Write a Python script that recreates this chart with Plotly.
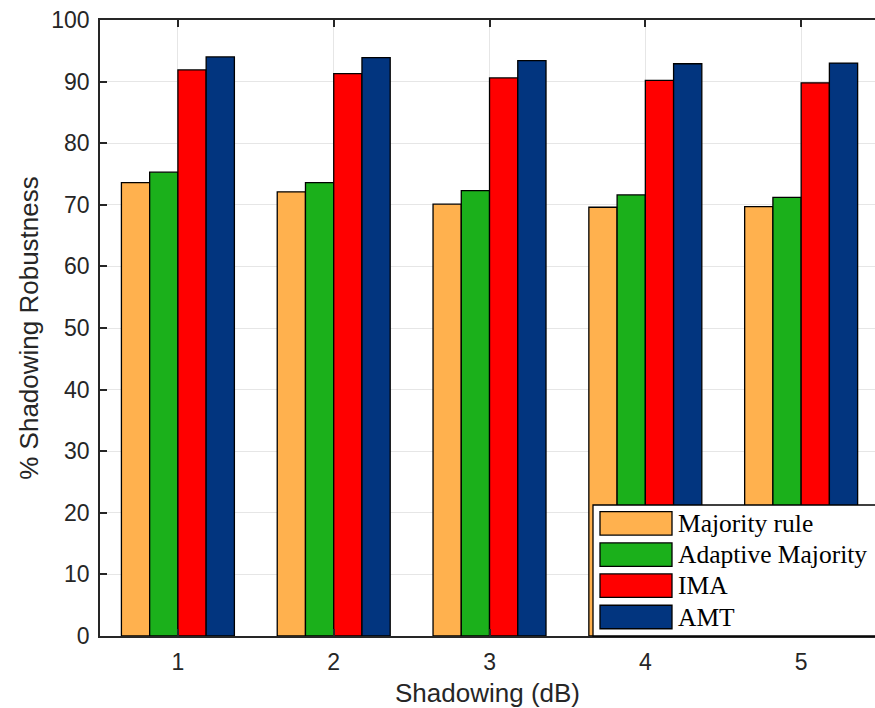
import plotly.graph_objects as go

shadowing = [1, 2, 3, 4, 5]
series_names = ["Majority rule", "Adaptive Majority", "IMA", "AMT"]
majority_rule = [73.6, 72.1, 70.1, 69.6, 69.7]
adaptive_majority = [75.3, 73.6, 72.3, 71.6, 71.2]
ima = [91.9, 91.3, 90.6, 90.2, 89.8]
amt = [94.0, 93.9, 93.4, 92.9, 93.0]
series_values = [majority_rule, adaptive_majority, ima, amt]
colors = ["#FFB14E", "#1BB01B", "#FF0000", "#02357F"]
y_ticks = [0, 10, 20, 30, 40, 50, 60, 70, 80, 90, 100]

fig = go.Figure()
for name, vals, col in zip(series_names, series_values, colors):
    fig.add_trace(go.Bar(x=shadowing, y=vals, name=name, marker=dict(color=col, line=dict(color="#000000", width=1.3)),
                         showlegend=False))

axis_color = "#262626"
fig.update_layout(
    width=875, height=708,
    margin=dict(l=100, r=0, t=20, b=72, autoexpand=False),
    paper_bgcolor="white", plot_bgcolor="white",
    barmode="group", bargap=0.275, bargroupgap=0,
    font=dict(family="Liberation Sans, Arial", color=axis_color),
    xaxis=dict(range=[0.5, 5.474], tickvals=shadowing, ticks="inside", ticklen=7, tickwidth=1.5,
               tickcolor=axis_color, showline=True, linecolor=axis_color, linewidth=1.5, mirror="ticks",
               showgrid=True, gridcolor="#E6E6E6", gridwidth=1, zeroline=False, automargin=False,
               tickfont=dict(size=23, color=axis_color), ticklabelstandoff=5,
               title=dict(text="Shadowing (dB)", font=dict(size=26, color=axis_color), standoff=16)),
    yaxis=dict(range=[0, 100], tickvals=y_ticks, ticks="inside", ticklen=7, tickwidth=1.5,
               tickcolor=axis_color, showline=True, linecolor=axis_color, linewidth=1.5, mirror=False,
               showgrid=True, gridcolor="#E6E6E6", gridwidth=1, zeroline=False, automargin=False,
               tickfont=dict(size=23, color=axis_color), ticklabelstandoff=4,
               title=dict(text="% Shadowing Robustness", font=dict(size=26, color=axis_color), standoff=5)),
    yaxis2=dict(range=[0, 100], overlaying="y", side="right", tickvals=y_ticks, ticks="inside", ticklen=7,
                tickwidth=1.5, tickcolor=axis_color, showticklabels=False, showgrid=False, zeroline=False,
                showline=False, automargin=False),
)

# manual legend box in the lower-right corner (MATLAB style)
plot_w, plot_h = 775, 616
def px(xp):
    return (xp - 100) / plot_w
def py(yp):
    return (636 - yp) / plot_h

fig.add_shape(type="rect", xref="paper", yref="paper", x0=px(593), x1=1.02, y0=0, y1=py(505),
              fillcolor="white", line=dict(color="#000000", width=1.3), layer="above")
row_centers = [523.3, 554.7, 585.7, 617.0]
for name, col, rc in zip(series_names, colors, row_centers):
    fig.add_shape(type="rect", xref="paper", yref="paper", x0=px(600), x1=px(672),
                  y0=py(rc + 11.75), y1=py(rc - 11.75), fillcolor=col,
                  line=dict(color="#000000", width=1.3), layer="above")
    fig.add_annotation(xref="paper", yref="paper", x=px(676), y=py(rc), text=name, showarrow=False,
                       xanchor="left", yanchor="middle",
                       font=dict(family="Liberation Serif, Times New Roman", size=25.5, color="#000000"))

fig.write_html("out.html", config={"displayModeBar": False},
               post_script="document.body.style.margin='0';document.body.style.overflow='hidden';")
